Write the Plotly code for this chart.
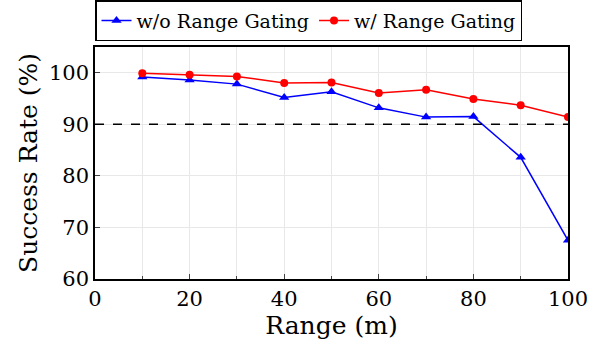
import plotly.graph_objects as go

ranges = [10, 20, 30, 40, 50, 60, 70, 80, 90, 100]
without_gating = [99.2, 98.6, 97.8, 95.2, 96.3, 93.2, 91.4, 91.5, 83.6, 67.5]
with_gating = [99.9, 99.6, 99.3, 98.0, 98.1, 96.1, 96.7, 94.9, 93.7, 91.4]
threshold = 90

FF = "DejaVu Serif"

fig = go.Figure()
fig.add_trace(go.Scatter(
    x=ranges, y=without_gating, mode="lines+markers", name="w/o Range Gating",
    line=dict(color="#0000ff", width=1.5),
    marker=dict(symbol="triangle-up", size=9, color="#0000ff"),
))
fig.add_trace(go.Scatter(
    x=ranges, y=with_gating, mode="lines+markers", name="w/ Range Gating",
    line=dict(color="#ff0000", width=1.5),
    marker=dict(symbol="circle", size=8, color="#ff0000"),
))
fig.add_shape(type="line", xref="x", yref="y", x0=0, x1=100, y0=threshold, y1=threshold,
              line=dict(color="black", width=1.5, dash="dash"))

fig.update_layout(
    width=592, height=345,
    margin=dict(l=95, r=24, t=47, b=66, autoexpand=False),
    paper_bgcolor="white", plot_bgcolor="white",
    font=dict(family=FF, size=21, color="black"),
    showlegend=True,
    legend=dict(
        orientation="h", x=0, y=1.025, xanchor="left", yanchor="bottom",
        bgcolor="white", bordercolor="black", borderwidth=1.5,
        font=dict(family=FF, size=19, color="black"),
        itemwidth=30, tracegroupgap=0,
    ),
    xaxis=dict(
        range=[0, 100], dtick=20, tick0=0, ticks="inside", ticklen=5,
        showline=True, linecolor="black", linewidth=1.5, mirror=True,
        showgrid=True, gridcolor="#e8e8e8", gridwidth=1,
        minor=dict(dtick=10, showgrid=True, gridcolor="#e8e8e8", ticks="inside", ticklen=3),
        zeroline=False,
        title=dict(text="Range (m)", standoff=0),
    ),
    yaxis=dict(
        range=[60, 105], dtick=10, tick0=60, ticks="inside", ticklen=5,
        showline=True, linecolor="black", linewidth=1.5, mirror=True,
        showgrid=True, gridcolor="#e8e8e8", gridwidth=1,
        zeroline=False,
        title=dict(text="Success Rate (%)", standoff=4),
    ),
)

fig.write_html("out.html")
